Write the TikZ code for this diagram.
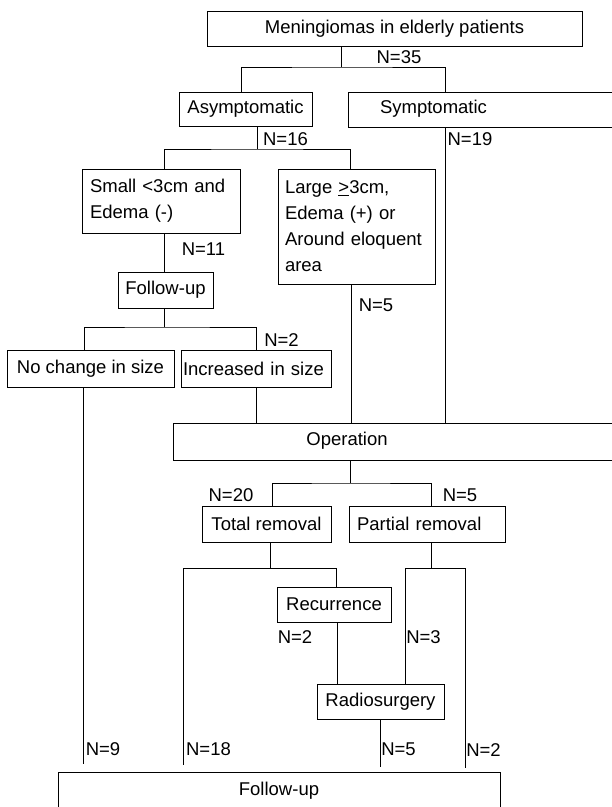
\documentclass[tikz,border=0pt]{standalone}
\usepackage{fontspec}
\setmainfont{Liberation Sans}
\newcommand{\fsz}{\fontsize{18.5}{26}\selectfont}
\begin{document}
\begin{tikzpicture}[x=1pt,y=-1pt,
  box/.style={draw, line width=0.9pt, inner sep=0pt, font=\fsz, align=center},
  lbl/.style={inner sep=0pt, font=\fsz},
  ln/.style={line width=0.9pt}]
\useasboundingbox (0,0) rectangle (612,807);
\clip (0,0) rectangle (612,807);
% boxes
\node[box, minimum width=375pt, minimum height=35pt] (top) at (394.5,28.5) {Meningiomas in elderly patients};
\node[box, minimum width=133pt, minimum height=34pt] (asym) at (245.5,109) {Asymptomatic};
\node[box, minimum width=268pt, minimum height=35pt] (sym) at (482,109.5) {};
\node[lbl] (symt) at (433.5,109) {Symptomatic};
\node[box, minimum width=158pt, minimum height=64pt, text width=142pt, align=left] (small) at (161,201) {Small <3cm and\\Edema (-)};
\node[box, minimum width=157pt, minimum height=115pt, text width=143pt, align=left] (large) at (356.5,226.5) {Large \underline{>}3cm,\\Edema (+) or\\Around eloquent\\area};
\node[box, minimum width=95pt, minimum height=36pt] (fu1) at (165.5,290) {Follow-up};
\node[box, minimum width=167pt, minimum height=37pt] (nochange) at (90.5,368.5) {No change in size};
\node[box, minimum width=150pt, minimum height=37pt, text width=146pt, align=left] (increased) at (256,368.5) {Increased in size};
\node[box, minimum width=443pt, minimum height=37pt] (op) at (394.5,441.5) {};
\node[lbl] (opt) at (347,441) {Operation};
\node[box, minimum width=129pt, minimum height=36pt] (total) at (266.5,524) {Total removal};
\node[box, minimum width=156pt, minimum height=36pt, text width=140pt, align=left] (partial) at (427,524) {Partial removal};
\node[box, minimum width=114pt, minimum height=35pt] (rec) at (334,604.5) {Recurrence};
\node[box, minimum width=127pt, minimum height=35pt] (radio) at (380.5,701.5) {Radiosurgery};
\node[box, minimum width=442pt, minimum height=37pt] (fu2) at (279,790.5) {Follow-up};
% labels
\node[lbl] (n35) at (399,57) {N=35};
\node[lbl] (n19) at (470,139.5) {N=19};
\node[lbl] (n16) at (285.5,139.5) {N=16};
\node[lbl] (n11) at (203.5,249.5) {N=11};
\node[lbl] (n5a) at (376,305.5) {N=5};
\node[lbl] (n2a) at (281.5,340.5) {N=2};
\node[lbl] (n20) at (231,495.5) {N=20};
\node[lbl] (n5b) at (460,495.5) {N=5};
\node[lbl] (n2b) at (295,637) {N=2};
\node[lbl] (n3) at (423.5,637) {N=3};
\node[lbl] (n9) at (103,749.5) {N=9};
\node[lbl] (n18) at (208.5,749.5) {N=18};
\node[lbl] (n5c) at (398.5,749.5) {N=5};
\node[lbl] (n2c) at (483.5,750.5) {N=2};
% junction coordinates
\coordinate (j1) at (341,67);
\coordinate (j2) at (257,149);
\coordinate (j3) at (164,327);
\coordinate (j4) at (350,483);
\coordinate (j5) at (270,568);
\coordinate (j6) at (431,568);
% connectors
\draw[ln] (top.south -| j1) -- (j1);
\draw[ln] (asym.north -| 241,0) |- (j1) -| (sym.north -| 445,0);
\draw[ln] (sym.south -| 445,0) -- (op.north -| 445,0);
\draw[ln] (asym.south -| j2) -- (j2);
\draw[ln] (small.north -| 164,0) |- (j2) -| (large.north -| 350,0);
\draw[ln] (small.south -| 164,0) -- (fu1.north -| 164,0);
\draw[ln] (fu1.south -| j3) -- (j3);
\draw[ln] (nochange.north -| 84,0) |- (j3) -| (increased.north -| 256,0);
\draw[ln] (large.south -| 351,0) -- (op.north -| 351,0);
\draw[ln, shorten >=8pt] (nochange.south -| 83,0) -- (fu2.north -| 83,0);
\draw[ln] (increased.south -| 256,0) -- (op.north -| 256,0);
\draw[ln] (op.south -| j4) -- (j4);
\draw[ln] (total.north -| 272,0) |- (j4) -| (partial.north -| 431,0);
\draw[ln] (total.south -| j5) -- (j5);
\draw[ln] (rec.north -| 336,0) |- (j5);
\draw[ln, shorten >=7pt] (j5) -| (fu2.north -| 183,0);
\draw[ln] (partial.south -| j6) -- (j6);
\draw[ln] (radio.north -| 405,0) |- (j6);
\draw[ln, shorten >=4pt] (j6) -| (fu2.north -| 465,0);
\draw[ln] (rec.south -| 337,0) -- (radio.north -| 337,0);
\draw[ln, shorten >=5pt] (radio.south -| 380,0) -- (fu2.north -| 380,0);
\end{tikzpicture}
\end{document}
